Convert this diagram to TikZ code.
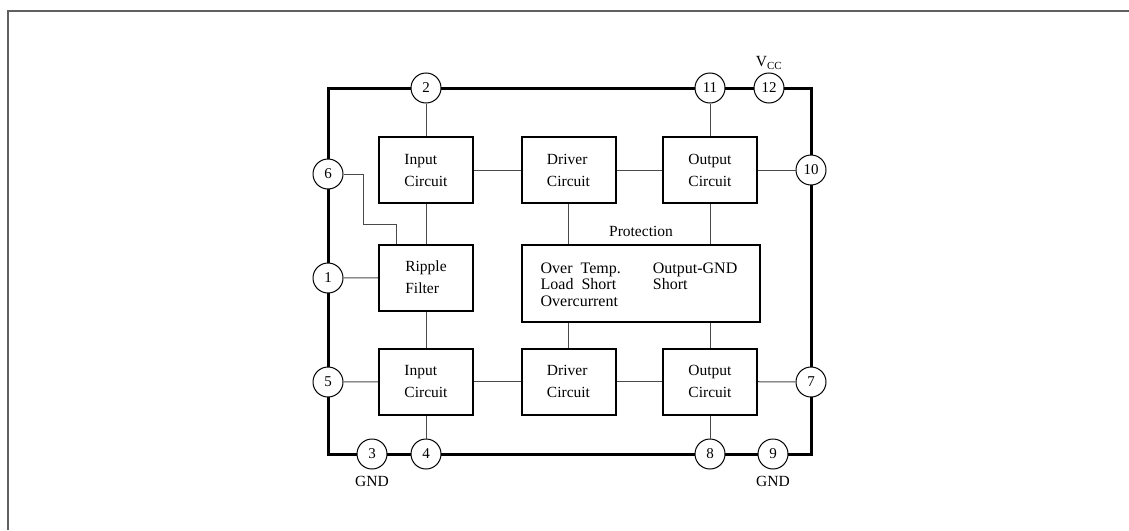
\documentclass[tikz,border=0pt]{standalone}
\usepackage{fontspec}
\setmainfont{Liberation Serif}
\definecolor{wireclr}{HTML}{4A4A4A}
\definecolor{framegray}{HTML}{606060}

\begin{document}
\begin{tikzpicture}[x=1pt,y=-1pt,line cap=butt,line join=miter,
    block/.style={draw,line width=2pt,minimum width=94pt,minimum height=66pt,
      align=left,font=\fontsize{15.5}{22}\selectfont},
    pinc/.style={draw,line width=1pt,fill=white,circle,minimum size=30pt,
      inner sep=0pt,font=\fontsize{15}{15}\selectfont},
    wire/.style={draw=wireclr,line width=1pt},
    chip/.style={line width=3pt},
    lbl/.style={font=\fontsize{15.5}{15.5}\selectfont,inner sep=0pt}]

  \useasboundingbox (0,0) rectangle (1129,530);

  % page frame (only top and left edges show)
  \draw[framegray,line width=2pt] (7.5,530) -- (7.5,10.5) -- (1129,10.5);

  % package outline
  \draw[chip] (328,88) rectangle (811,454);

  % function blocks
  \node[block] (inA)    at (426,170)   {Input\\Circuit};
  \node[block] (drvA)   at (568.5,170) {Driver\\Circuit};
  \node[block] (outA)   at (710,170)   {Output\\Circuit};
  \node[block] (ripple) at (426,277.5) {Ripple\\Filter};
  \node[block] (inB)    at (426,381.5) {Input\\Circuit};
  \node[block] (drvB)   at (568.5,381.5) {Driver\\Circuit};
  \node[block] (outB)   at (710,381.5) {Output\\Circuit};
  \node[draw,line width=2pt,minimum width=238pt,minimum height=77pt,
        inner sep=0pt] (prot) at (641,283.5) {};
  \node[font=\fontsize{16}{16.5}\selectfont,inner sep=0pt] (prottxt)
    at ([xshift=-2pt,yshift=-3pt]prot.center)
    {\begin{tabular}{@{}l@{\hspace{32pt}}l@{}}
       Over\ \ Temp. & Output-GND\\
       Load\ \ Short & Short\\
       Overcurrent   & \\
     \end{tabular}};
  \node[lbl,anchor=south] (protlbl) at (prot.north) [yshift=7pt] {Protection};

  % pins
  \node[pinc] (pin2)  at (426,88)  {2};
  \node[pinc] (pin11) at (710,88)  {11};
  \node[pinc] (pin12) at (769,88)  {12};
  \node[pinc] (pin10) at (811,170) {10};
  \node[pinc] (pin6)  at (328,174) {6};
  \node[pinc] (pin1)  at (328,278) {1};
  \node[pinc] (pin5)  at (328,382) {5};
  \node[pinc] (pin7)  at (811,382) {7};
  \node[pinc] (pin3)  at (372,454) {3};
  \node[pinc] (pin4)  at (426,454) {4};
  \node[pinc] (pin8)  at (710,454) {8};
  \node[pinc] (pin9)  at (773,454) {9};

  \node[lbl] (vcc)  at (769,63)  {V\textsubscript{CC}};
  \node[lbl] (gndA) at (372,481) {GND};
  \node[lbl] (gndB) at (773,481) {GND};

  % upper channel
  \draw[wire] (pin2) -- (inA);
  \draw[wire] (inA) -- (drvA);
  \draw[wire] (drvA) -- (outA);
  \draw[wire] (outA) -- (pin10);
  \draw[wire] (outA) -- (pin11);
  \draw[wire] (drvA.south) -- (drvA.south |- prot.north);
  \draw[wire] (outA.south) -- (outA.south |- prot.north);

  % ripple filter
  \coordinate (rjog) at (396,224);
  \draw[wire] (pin6.east) -- ++(20,0) |- (rjog) -- (rjog |- ripple.north);
  \draw[wire] (pin1) -- (ripple);
  \draw[wire] (inA) -- (ripple);
  \draw[wire] (ripple) -- (inB);

  % lower channel
  \draw[wire] (pin5) -- (inB);
  \draw[wire] (inB) -- (drvB);
  \draw[wire] (drvB) -- (outB);
  \draw[wire] (outB) -- (pin7);
  \draw[wire] (inB) -- (pin4);
  \draw[wire] (outB) -- (pin8);
  \draw[wire] (prot.south -| drvB.north) -- (drvB.north);
  \draw[wire] (prot.south -| outB.north) -- (outB.north);

\end{tikzpicture}
\end{document}
